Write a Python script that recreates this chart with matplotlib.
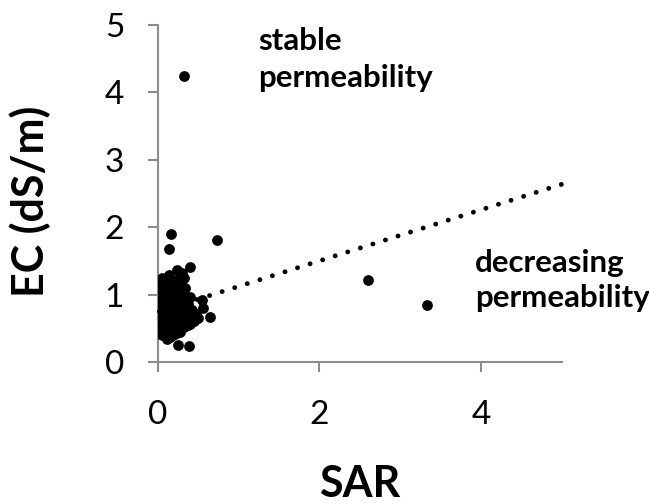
import numpy as np
import matplotlib
matplotlib.use("Agg")
import matplotlib.pyplot as plt

plt.rcParams['font.family'] = ['Lato', 'DejaVu Sans']

# SAR vs EC readings (estimated from the chart)
sar = [0.33, 0.16, 0.14, 0.73, 2.60, 3.33, 0.40, 0.05, 0.235, 0.145, 0.30, 0.27,
       0.40, 0.545, 0.565, 0.65, 0.44, 0.05, 0.255, 0.39, 0.15, 0.21,
       0.03, 0.10, 0.18, 0.24, 0.32,
       0.02, 0.08, 0.15, 0.22, 0.28, 0.12, 0.34,
       0.03, 0.09, 0.16, 0.23, 0.30, 0.05, 0.36,
       0.02, 0.07, 0.13, 0.19, 0.26, 0.33, 0.10, 0.38,
       0.03, 0.08, 0.14, 0.20, 0.27, 0.34, 0.42, 0.47, 0.38,
       0.02, 0.06, 0.12, 0.18, 0.24, 0.31, 0.38, 0.45, 0.50,
       0.04, 0.10, 0.16, 0.22, 0.29, 0.35, 0.40, 0.44,
       0.03, 0.09, 0.14, 0.20, 0.28, 0.33, 0.24, 0.37,
       0.10, 0.19, 0.12, 0.27]
ec = [4.25, 1.90, 1.68, 1.81, 1.22, 0.85, 1.42, 1.25, 1.37, 1.30, 1.33, 1.27,
      0.975, 0.93, 0.80, 0.68, 0.65, 0.41, 0.26, 0.25, 0.38, 0.53,
      1.18, 1.22, 1.20, 1.22, 1.25,
      1.10, 1.12, 1.08, 1.12, 1.15, 1.15, 1.10,
      1.02, 0.98, 1.02, 1.00, 1.05, 0.95, 0.96,
      0.90, 0.88, 0.92, 0.90, 0.88, 0.92, 0.85, 0.86,
      0.80, 0.78, 0.82, 0.79, 0.80, 0.76, 0.78, 0.72, 0.82,
      0.70, 0.72, 0.68, 0.71, 0.69, 0.72, 0.68, 0.62, 0.66,
      0.62, 0.60, 0.58, 0.62, 0.60, 0.58, 0.57, 0.70,
      0.52, 0.50, 0.47, 0.52, 0.50, 0.53, 0.44, 0.55,
      0.42, 0.40, 0.35, 0.45]

# linear trendline end points
trend_x = [0.02, 5.0]
trend_y = [0.756, 2.64]

x_ticks = [0, 2, 4]
y_ticks = [0, 1, 2, 3, 4, 5]

grey = '#8c8c8c'

fig = plt.figure(figsize=(6.49, 5.04), dpi=100)
ax = fig.add_axes([0.243, 0.2808, 0.6225, 0.6696])

ax.scatter(sar, ec, s=60, color='black', linewidths=0, zorder=3)
ax.plot(trend_x, trend_y, color='black', linewidth=3.5,
        linestyle=(0, (0.01, 2.7)), dash_capstyle='round', zorder=4, clip_on=False)

ax.set_xlim(0, 5)
ax.set_ylim(0, 5)
ax.set_xticks(x_ticks)
ax.set_yticks(y_ticks)

for side in ['top', 'right']:
    ax.spines[side].set_visible(False)
for side in ['left', 'bottom']:
    ax.spines[side].set_color(grey)
    ax.spines[side].set_linewidth(1.5)

ax.tick_params(axis='both', direction='out', length=7.2, width=1.5, color=grey,
               labelsize=24, labelcolor='black')
ax.tick_params(axis='x', pad=20)
ax.tick_params(axis='y', pad=17)

fig.text(30 / 649, 1 - 201 / 504, 'EC (dS/m)', rotation=90, ha='center', va='center',
         fontsize=31, fontweight='bold')
fig.text(359.7 / 649, 1 - 496.7 / 504, 'SAR', ha='center', va='baseline',
         fontsize=31, fontweight='bold')

# annotation labels, one line each
ax.text(1.245, 4.63, 'stable', fontsize=22.5, fontweight='bold', va='baseline')
ax.text(1.245, 4.086, 'permeability', fontsize=22.5, fontweight='bold', va='baseline')
ax.text(3.93, 1.345, 'decreasing', fontsize=22.5, fontweight='bold', va='baseline')
ax.text(3.93, 0.827, 'permeability', fontsize=22.5, fontweight='bold', va='baseline')

fig.savefig('out.png', dpi=100)
